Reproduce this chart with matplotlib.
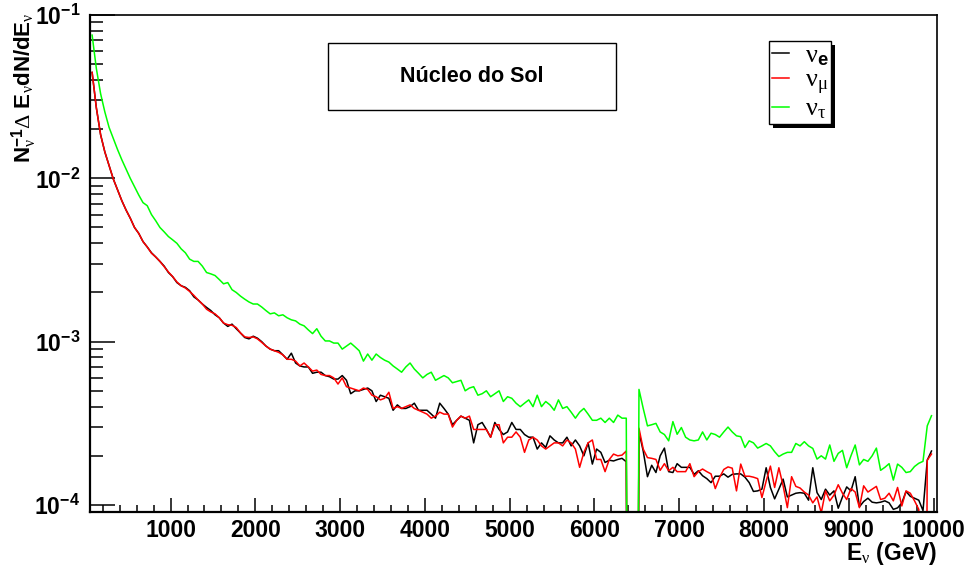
import numpy as np
import matplotlib
matplotlib.use("Agg")
import matplotlib.pyplot as plt
from matplotlib.patches import Rectangle
from matplotlib.ticker import MultipleLocator, LogLocator, FuncFormatter, NullFormatter
from matplotlib.transforms import IdentityTransform

plt.rcParams["font.family"] = ["Liberation Sans", "DejaVu Sans"]
plt.rcParams["mathtext.fontset"] = "custom"
plt.rcParams["mathtext.rm"] = "Liberation Serif"
plt.rcParams["mathtext.it"] = "Liberation Serif:italic"
plt.rcParams["mathtext.bf"] = "Liberation Sans:bold"
plt.rcParams["mathtext.sf"] = "Liberation Sans"

# Energy bins: 50 GeV wide, centres from 75 to 9975 GeV
bin_width = 50
e_centers = np.arange(75, 10000, bin_width)

# Normalised spectra per bin (N^-1 dE E dN/dE)
nu_e = [
    0.0445, 0.027, 0.0185, 0.0145, 0.012, 0.0099, 0.0085, 0.0073, 0.0064, 0.0057,
    0.0050, 0.0046, 0.0041, 0.0038, 0.0035, 0.0033, 0.0031, 0.0029, 0.00265, 0.0025,
    0.0023, 0.0022, 0.00215, 0.00205, 0.00188, 0.0018, 0.0017, 0.00162, 0.00155, 0.00146,
    0.0014, 0.0013, 0.00124, 0.00128, 0.0012, 0.00113, 0.00106, 0.00104, 0.00108, 0.00105,
    0.0010, 0.00094, 0.0009, 0.00088, 0.00088, 0.00083, 0.00078, 0.00085, 0.00074, 0.00071,
    0.0007, 0.0007, 0.00064, 0.00065, 0.00065, 0.00062, 0.00061, 0.00059, 0.00059, 0.00062,
    0.00058, 0.00048, 0.0005, 0.0005, 0.00051, 0.00052, 0.0005, 0.00043, 0.00047, 0.00046,
    0.00045, 0.00038, 0.00041, 0.00039, 0.00039, 0.0004, 0.00042, 0.00038, 0.00038, 0.00038,
    0.00036, 0.00034, 0.00042, 0.00039, 0.00036, 0.00031, 0.00033, 0.00035, 0.00034, 0.00033,
    0.00024, 0.00031, 0.00032, 0.00029, 0.00026, 0.00032, 0.00029, 0.00027, 0.00028, 0.00032,
    0.00029, 0.00029, 0.00027, 0.00026, 0.00026, 0.00022, 0.00024, 0.000225, 0.000265, 0.00025,
    0.00024, 0.00024, 0.00026, 0.00023, 0.00025, 0.00023, 0.0002, 0.00024, 0.000178, 0.00022,
    0.00021, 0.000182, 0.000188, 0.000186, 0.00019, 0.000193, 0.000184, 0.0, 0.0, 0.00028,
    0.000214, 0.000149, 0.000175, 0.000158, 0.0002, 0.000223, 0.00016, 0.000158, 0.000179, 0.00017,
    0.00017, 0.00017, 0.000154, 0.000162, 0.000151, 0.000145, 0.000137, 0.00015, 0.00015, 0.000155,
    0.000148, 0.000154, 0.000155, 0.000155, 0.000148, 0.000137, 0.000121, 0.000122, 0.000125, 0.000169,
    0.000128, 0.000109, 0.000125, 0.000144, 0.000112, 0.000115, 0.000118, 0.000119, 0.000118, 0.000107,
    0.000169, 0.000119, 0.000108, 0.000125, 0.000115, 0.000122, 0.0000955, 0.000112, 0.000129, 0.000122,
    0.000149, 0.0000975, 0.000105, 0.00011, 0.000104, 0.000103, 0.000104, 0.000106, 0.000103, 0.000094,
    0.000096, 0.000103, 0.000121, 0.000113, 0.00011, 0.000107, 0.0000924, 0.000188, 0.000214,
]

nu_mu = [
    0.0445, 0.027, 0.0185, 0.0145, 0.012, 0.0099, 0.0085, 0.0073, 0.0064, 0.0057,
    0.0050, 0.0046, 0.0041, 0.0038, 0.00348, 0.0033, 0.0031, 0.00288, 0.00267, 0.0025,
    0.00232, 0.0022, 0.00213, 0.00203, 0.00192, 0.0018, 0.0017, 0.00158, 0.00152, 0.00148,
    0.0014, 0.0013, 0.00127, 0.00126, 0.00122, 0.00113, 0.00107, 0.00106, 0.00107, 0.00104,
    0.00099, 0.00094, 0.0009, 0.00088, 0.00086, 0.00083, 0.00078, 0.00078, 0.00076, 0.00071,
    0.00074, 0.0007, 0.00066, 0.00067, 0.00063, 0.00062, 0.00062, 0.0006, 0.00055, 0.0006,
    0.00053, 0.00052, 0.00051, 0.0005, 0.00052, 0.00051, 0.00047, 0.00046, 0.00044, 0.00045,
    0.00049, 0.00039, 0.0004, 0.00039, 0.0004, 0.00041, 0.00039, 0.00038, 0.00037, 0.00036,
    0.00034, 0.00035, 0.00037, 0.00036, 0.00036, 0.0003, 0.00033, 0.00035, 0.00034, 0.00035,
    0.00029, 0.00029, 0.00029, 0.00029, 0.00026, 0.00031, 0.00031, 0.00024, 0.00026, 0.00026,
    0.00028, 0.00026, 0.00021, 0.00025, 0.00026, 0.00025, 0.00023, 0.00022, 0.00023, 0.00024,
    0.00024, 0.00023, 0.00025, 0.00024, 0.00022, 0.00017, 0.00021, 0.00024, 0.00025, 0.00019,
    0.00019, 0.00016, 0.00019, 0.000205, 0.0002, 0.000202, 0.000214, 0.0, 0.0, 0.000295,
    0.00022, 0.000195, 0.000193, 0.00019, 0.000163, 0.000179, 0.000162, 0.00017, 0.00016, 0.00016,
    0.00016, 0.000179, 0.000149, 0.00016, 0.000166, 0.00016, 0.000155, 0.000126, 0.000147, 0.000165,
    0.000171, 0.000168, 0.000122, 0.000178, 0.00015, 0.00015, 0.000148, 0.000145, 0.000111, 0.00014,
    0.000173, 0.000128, 0.000169, 0.000131, 0.0000963, 0.000149, 0.00013, 0.000127, 0.00012, 0.000115,
    0.000103, 0.000112, 0.0000895, 0.000122, 0.000106, 0.000115, 0.000133, 0.000118, 0.000108, 0.000126,
    0.00012, 0.0000963, 0.000131, 0.00012, 0.000125, 0.00013, 0.000108, 0.00011, 0.000118, 0.000106,
    0.000128, 0.0000986, 0.000122, 0.000118, 0.000106, 0.000094, 0.0, 0.000188, 0.000205,
]

nu_tau = [
    0.0753, 0.047, 0.033, 0.0255, 0.0205, 0.0175, 0.0150, 0.0130, 0.0114, 0.0100,
    0.0089, 0.0079, 0.0071, 0.0068, 0.0060, 0.0055, 0.0050, 0.0047, 0.0044, 0.0042,
    0.0040, 0.0037, 0.0035, 0.0032, 0.0031, 0.0031, 0.0029, 0.00265, 0.0026, 0.00254,
    0.0024, 0.00226, 0.0023, 0.00208, 0.0020, 0.0019, 0.00182, 0.00175, 0.0017, 0.0017,
    0.00163, 0.00155, 0.00148, 0.0015, 0.00144, 0.00146, 0.0014, 0.00136, 0.00134, 0.00128,
    0.00125, 0.00118, 0.00112, 0.0012, 0.00108, 0.00101, 0.00101, 0.00098, 0.00098, 0.0009,
    0.00094, 0.00098, 0.00093, 0.00088, 0.00076, 0.00084, 0.00077, 0.00084, 0.0008, 0.00077,
    0.00075, 0.00071, 0.00068, 0.00065, 0.0007, 0.00074, 0.00068, 0.00064, 0.0006, 0.00063,
    0.00065, 0.00058, 0.0006, 0.00062, 0.0006, 0.00056, 0.00057, 0.00058, 0.0005, 0.00052,
    0.00053, 0.00047, 0.00048, 0.0005, 0.00046, 0.00048, 0.0005, 0.00043, 0.00046, 0.00045,
    0.00042, 0.0004, 0.00042, 0.00044, 0.0004, 0.00047, 0.0004, 0.00043, 0.00041, 0.00038,
    0.00044, 0.00039, 0.0004, 0.00037, 0.00034, 0.00037, 0.00039, 0.00036, 0.00033, 0.00033,
    0.00034, 0.00032, 0.00034, 0.00032, 0.000355, 0.00034, 0.00034, 0.0, 0.0, 0.00051,
    0.00039, 0.000305, 0.00031, 0.000316, 0.00028, 0.00027, 0.000247, 0.000324, 0.000271, 0.000298,
    0.00026, 0.00025, 0.000247, 0.00025, 0.00028, 0.00025, 0.000275, 0.00027, 0.00026, 0.00028,
    0.0003, 0.00028, 0.000265, 0.000262, 0.000225, 0.000247, 0.00024, 0.000223, 0.00023, 0.000238,
    0.00023, 0.000212, 0.000198, 0.000205, 0.00021, 0.00021, 0.000238, 0.00023, 0.000244, 0.00023,
    0.000222, 0.000191, 0.0002, 0.000191, 0.000233, 0.000185, 0.000207, 0.000216, 0.000169, 0.0002,
    0.000233, 0.000176, 0.00019, 0.000185, 0.0002, 0.000223, 0.000163, 0.00017, 0.000179, 0.000142,
    0.000178, 0.00017, 0.000158, 0.00016, 0.000172, 0.00018, 0.000185, 0.000305, 0.000352,
]

series_labels = [r"$\mathrm{\nu}_{\mathbf{e}}$", r"$\mathrm{\nu}_{\mathrm{\mu}}$", r"$\mathrm{\nu}_{\mathrm{\tau}}$"]
series_colors = ["#000000", "#ff0000", "#00ff00"]

x_min, x_max = 50, 10040
y_min, y_max = 10 ** -4.043, 1e-1

W, H = 970, 568
fig = plt.figure(figsize=(W / 100, H / 100), dpi=100)
ax = fig.add_axes([90 / W, 1 - 512 / H, (937 - 90) / W, (512 - 15) / H])


def floor_empty(v):
    # empty bins are drawn down to the bottom of the frame on the log scale
    v = np.asarray(v, dtype=float)
    return np.where(v > 0, v, 1e-9)


handles = []
for vals, lab, col in zip([nu_e, nu_mu, nu_tau], series_labels, series_colors):
    (h,) = ax.plot(e_centers, floor_empty(vals), color=col, lw=1.1, label=lab)
    handles.append(h)

ax.set_yscale("log")
ax.set_xlim(x_min, x_max)
ax.set_ylim(y_min, y_max)

ax.xaxis.set_major_locator(MultipleLocator(1000))
ax.xaxis.set_minor_locator(MultipleLocator(200))
ax.yaxis.set_major_locator(LogLocator(base=10, numticks=10))
ax.yaxis.set_minor_locator(LogLocator(base=10, subs=np.arange(2, 10), numticks=20))
ax.yaxis.set_minor_formatter(NullFormatter())
ax.xaxis.set_major_formatter(FuncFormatter(lambda v, p: f"{int(round(v))}"))
ax.yaxis.set_major_formatter(FuncFormatter(lambda v, p: r"$\mathbf{10^{%d}}$" % int(round(np.log10(v)))))

ax.tick_params(axis="x", which="major", direction="in", length=10, width=1.1, pad=5,
               labelsize=16.5, top=False)
ax.tick_params(axis="x", which="minor", direction="in", length=5, width=1.1, top=False)
ax.tick_params(axis="y", which="major", direction="in", length=18, width=1.1, pad=7,
               labelsize=16.5, right=False)
ax.tick_params(axis="y", which="minor", direction="in", length=9.3, width=1.1, right=False)
for lbl in ax.get_xticklabels():
    lbl.set_fontweight("bold")

for side in ["left", "bottom"]:
    ax.spines[side].set_linewidth(1.6)
for side in ["top", "right"]:
    ax.spines[side].set_linewidth(1.2)

# axis titles
fig.text(937 / W, 1 - 560 / H, r"E$_{\mathrm{\nu}}$ (GeV)", ha="right", va="baseline",
         fontsize=16.5, fontweight="bold")
fig.text(24 / W, 1 - 12 / H, r"N$_{\mathrm{\nu}}^{\mathbf{-1}}$$\mathrm{\Delta}$ E$_{\mathrm{\nu}}$dN/dE$_{\mathrm{\nu}}$",
         ha="center", va="top", rotation=90, fontsize=16, fontweight="bold")

# title box
fig.patches.append(Rectangle((328 / W, 1 - 110 / H), (616 - 328) / W, (110 - 43) / H,
                             transform=fig.transFigure, facecolor="white",
                             edgecolor="black", lw=1.0, zorder=3))
fig.text(472 / W, 1 - 77 / H, "Núcleo do Sol", ha="center", va="center",
         fontsize=15.5, fontweight="bold", zorder=4)

# legend with solid drop shadow
leg = ax.legend(handles=handles, loc="upper left",
                bbox_to_anchor=(769 / W, 1 - 41 / H), bbox_transform=fig.transFigure,
                frameon=True, fancybox=False, edgecolor="black", framealpha=1,
                fontsize=19, handlelength=0.65, handletextpad=0.6, borderpad=0.1,
                labelspacing=0.0, borderaxespad=0)
leg.get_frame().set_linewidth(1.0)
leg.set_zorder(6)
fig.canvas.draw()
bb = leg.get_window_extent()
ax.add_patch(Rectangle((bb.x0 + 4, bb.y0 - 4), bb.width, bb.height,
                       transform=IdentityTransform(), facecolor="black",
                       edgecolor="none", zorder=5.5, clip_on=False))

fig.savefig("out.png", dpi=100)
